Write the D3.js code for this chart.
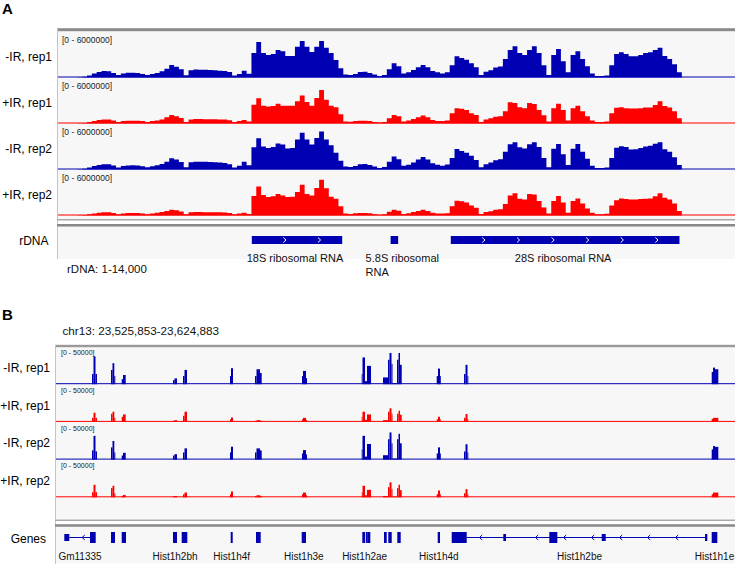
<!DOCTYPE html>
<html><head><meta charset="utf-8">
<script src="https://cdn.jsdelivr.net/npm/d3@7"></script>
<style>body{margin:0;background:#fff} svg{display:block}</style>
</head><body><svg id="c" width="735" height="567"></svg>
<script>
// ---------------- DATA: panel A (rDNA 1-14,000, 100 bp bins, values in millions of reads) ----------------
const rdnaLength = 14000;
const rdnaBinSize = 100;
const rangeMaxA = 6000000;
const trackNames = ["-IR, rep1", "+IR, rep1", "-IR, rep2", "+IR, rep2"];
const minusIR_rep1_A = [0,0,0,0,0.04,0.11,0.27,0.53,0.73,0.84,
 0.8,0.6,0.31,0.51,0.63,0.63,0.6,0.47,0.31,0.47,
 0.6,0.8,1.13,1.64,1.4,1.07,0.3,0.93,1.03,1.0,
 1.0,0.97,0.93,0.89,0.84,0.73,0.27,0.47,0.89,0.5,
 3.2,4.63,3.2,2.93,3.07,3.6,3.43,2.8,2.8,4.0,
 4.76,4.0,3.33,4.0,4.76,3.87,3.2,2.27,1.2,0.4,
 0.33,0.47,0.73,0.76,0.6,0.4,0.2,0.33,1.07,1.87,
 1.47,0.53,0.67,0.97,1.33,1.64,1.33,0.84,0.67,0.53,
 0.67,1.6,2.76,2.53,2.31,1.87,1.33,0.33,0.76,0.93,
 1.29,1.43,2.4,3.6,4.09,3.2,2.93,3.6,4.09,3.2,
 1.6,0.33,2.93,3.73,2.13,0.67,2.93,3.43,2.4,1.47,
 0.53,0.2,0.2,0.27,1.6,3.07,3.29,3.07,2.76,2.76,
 2.93,3.2,3.29,3.6,3.87,2.8,2.4,1.73,0.67,0,
 0,0,0,0,0,0,0,0,0,0];
const plusIR_rep1_A = [0,0,0,0,0.03,0.07,0.2,0.33,0.47,0.53,
 0.53,0.4,0.2,0.31,0.36,0.36,0.36,0.31,0.2,0.31,
 0.4,0.53,0.8,1.11,0.93,0.73,0.2,0.53,0.6,0.6,
 0.57,0.57,0.56,0.53,0.51,0.44,0.2,0.33,0.47,0.27,
 2.44,3.29,2.31,2.23,2.27,2.57,2.31,2.31,2.31,2.89,
 3.64,2.8,2.31,3.33,4.36,3.11,2.31,2.13,1.2,0.27,
 0.24,0.33,0.36,0.36,0.33,0.2,0.13,0.2,0.67,1.11,
 0.93,0.27,0.4,0.6,0.8,1.03,0.8,0.47,0.33,0.33,
 0.4,1.33,2.0,1.93,1.77,1.33,1.11,0.2,0.53,0.67,
 0.89,0.93,1.6,2.76,2.67,2.13,2.0,2.67,2.53,1.77,
 1.07,0.27,2.0,2.57,1.77,0.4,2.0,2.31,1.6,0.93,
 0.4,0.2,0.2,0.27,1.33,2.07,2.13,2.0,1.96,1.96,
 2.0,2.09,2.09,2.4,2.89,2.27,2.09,1.6,0.67,0,
 0,0,0,0,0,0,0,0,0,0];
const minusIR_rep2_A = [0,0,0,0,0.04,0.1,0.25,0.45,0.6,0.68,
 0.67,0.52,0.27,0.45,0.53,0.55,0.52,0.42,0.29,0.43,
 0.55,0.73,1.0,1.47,1.3,0.98,0.3,0.95,1.02,1.02,
 1.0,0.98,0.95,0.9,0.85,0.7,0.25,0.5,1.02,0.55,
 2.9,4.09,3.0,2.8,2.95,3.4,3.25,2.75,2.8,3.9,
 4.8,3.9,3.25,4.1,4.97,3.9,3.15,2.2,1.15,0.4,
 0.33,0.45,0.7,0.72,0.58,0.38,0.2,0.33,1.0,1.69,
 1.35,0.5,0.62,0.9,1.3,1.64,1.3,0.8,0.62,0.5,
 0.65,1.5,2.67,2.4,2.2,1.8,1.25,0.3,0.7,0.9,
 1.2,1.35,2.3,3.3,3.56,2.9,2.75,3.3,3.56,2.95,
 1.5,0.3,2.7,3.33,2.0,0.6,2.7,3.33,2.3,1.4,
 0.5,0.2,0.2,0.25,1.5,2.85,3.03,2.95,2.6,2.65,
 2.8,3.0,3.1,3.35,3.56,2.65,2.3,1.6,0.6,0,
 0,0,0,0,0,0,0,0,0,0];
const plusIR_rep2_A = [0,0,0,0,0.02,0.05,0.15,0.25,0.35,0.42,
 0.42,0.32,0.17,0.27,0.31,0.31,0.31,0.27,0.17,0.27,
 0.35,0.45,0.6,0.76,0.67,0.52,0.17,0.42,0.46,0.45,
 0.44,0.44,0.43,0.41,0.39,0.34,0.15,0.25,0.35,0.2,
 2.53,3.77,2.67,2.4,2.5,2.8,2.6,2.4,2.45,3.07,
 4.0,2.8,2.6,3.6,4.67,3.56,2.44,2.2,1.2,0.25,
 0.2,0.28,0.32,0.32,0.28,0.17,0.1,0.17,0.5,0.76,
 0.62,0.2,0.3,0.45,0.6,0.76,0.6,0.35,0.27,0.27,
 0.3,1.2,1.91,1.85,1.7,1.3,1.0,0.2,0.45,0.55,
 0.75,0.8,1.5,2.6,2.89,2.2,2.1,2.8,2.75,1.9,
 1.05,0.25,1.9,2.53,1.7,0.35,1.9,2.23,1.55,0.9,
 0.35,0.15,0.15,0.22,1.3,2.0,2.23,2.15,2.1,2.1,
 2.15,2.2,2.23,2.5,2.89,2.3,2.1,1.55,0.6,0,
 0,0,0,0,0,0,0,0,0,0];
const rdnaFeatLabel = [["18S ribosomal RNA"], ["5.8S ribosomal", "RNA"], ["28S ribosomal RNA"]];
const rdnaFeatStart = [4008, 6878, 8123];
const rdnaFeatEnd = [5877, 7034, 12852];

// ---------------- DATA: panel B (chr13 histone cluster) ----------------
const chromB = "chr13";
const startB = 23525853, endB = 23624883;
const rangeMaxB = 50000;
const segStartB = [23531104,23531322,23531614,23533875,23534093,23534356,23535435,23535625,23542917,23543136,
 23544376,23544595,23551231,23551377,23554877,23555095,23555606,23561732,23561878,23562315,
 23570439,23570556,23570921,23571212,23573546,23574275,23574494,23574786,23574932,23575588,
 23575807,23576025,23581378,23581567,23581859,23585360,23585579,23585870,23621486,23621676,23621968];
const segEndB = [23531322,23531614,23531833,23534093,23534356,23534502,23535625,23536019,23543136,23543501,
 23544595,23544959,23551377,23551668,23555095,23555606,23555853,23561878,23562315,23562461,
 23570556,23570921,23571212,23571796,23574275,23574494,23574786,23574932,23575588,23575807,
 23576025,23576273,23581567,23581859,23581961,23585579,23585870,23585943,23621676,23621968,23622449];
const minusIR_rep1_B = [13500,36900,13500,18900,27900,10800,6750,12200,5400,7700,10800,18900,10800,21200,10800,19800,14900,10800,17600,8100,13500,35500,4000,24300,9000,32400,41400,27000,1350,32400,41400,25700,10800,20700,10800,13500,25700,10800,16200,22000,19800];
const plusIR_rep1_B = [5400,12200,5400,10800,13500,5400,6750,9900,1600,2300,8100,13500,3400,5800,1350,2300,1600,3400,5400,2700,6750,13500,2700,9900,2300,13500,18000,10800,700,10800,14900,9500,3400,6750,3400,5400,10400,4000,4000,5400,5400];
const minusIR_rep2_B = [12200,31500,10800,16200,24700,9500,5400,9000,5400,7200,9500,14900,9500,17100,9500,14900,12200,8100,12600,6750,13500,31500,4000,20700,5800,27000,36000,21600,1350,27000,34200,21600,8100,16200,8100,10800,20300,9500,13500,18000,16900];
const plusIR_rep2_B = [6750,16600,6750,12200,15300,5400,2000,3100,1350,1750,4000,6300,4000,7700,1600,2700,2000,4000,6300,2700,6750,15300,2700,9900,1750,13500,19800,10800,700,12200,16600,9500,4000,9000,4000,5400,10800,4000,4000,6300,6300];
const exonStart = [23527064,23530812,23533875,23535435,23542917,23544186,23551333,23555023,23561688,23570527,23571067,23571256,23573692,23574319,23575632,23581524,23583566,23591092,23597801,23605443,23620510,23621486];
const exonEnd   = [23527793,23531643,23534458,23536063,23543501,23545003,23551625,23555708,23562315,23570950,23571212,23571694,23574086,23574815,23576127,23581859,23585754,23591486,23598968,23606027,23620845,23622303];
const exonThick = [0,1,1,1,1,1,1,1,1,1,1,1,1,1,1,1,1,0,1,0,0,1];
const intronStart = [23527793, 23585754];
const intronEnd = [23530812, 23620510];
const geneName = ["Gm11335","Hist1h2bh","Hist1h4f","Hist1h3e","Hist1h2ae","Hist1h4d","Hist1h2be","Hist1h1e"];
const geneStart = [23527064,23542917,23551333,23561688,23570527,23581524,23583566,23621486];
const geneEnd   = [23531643,23543501,23551625,23562315,23571212,23581859,23620845,23622303];

// ---------------- DRAWING ----------------
const FONT = "'Liberation Sans', Arial, Helvetica, sans-serif";
const BLUE = "rgb(0,0,178)", RED = "rgb(255,0,0)", BG = "#f7f7f7";
const colors = [BLUE, RED, BLUE, RED];
const svg = d3.select("#c").style("font-family", FONT);

function text(x, y, s, size, opts = {}) {
  return svg.append("text").attr("x", x).attr("y", y).text(s)
    .attr("font-size", size).attr("fill", opts.fill || "#000")
    .attr("text-anchor", opts.anchor || "start")
    .attr("font-weight", opts.weight || "normal");
}
function hline(x1, x2, y, color, w) {
  svg.append("line").attr("x1", x1).attr("x2", x2).attr("y1", y).attr("y2", y)
    .attr("stroke", color).attr("stroke-width", w);
}

// ===== Panel A =====
const AL = 58, AR = 735, A_TOP = 31.5, A_H = 46;
const xA = d3.scaleLinear().domain([0, rdnaLength]).range([AL, AR]);
svg.append("rect").attr("x", AL).attr("y", 29).attr("width", AR - AL).attr("height", 190).attr("fill", BG);
svg.append("rect").attr("x", AL).attr("y", 226).attr("width", AR - AL).attr("height", 33).attr("fill", BG);
svg.append("rect").attr("x", AL - 1).attr("y", 28.2).attr("width", AR - AL + 1).attr("height", 3).attr("fill", "#8a8a8a");
svg.append("line").attr("x1", AL - 0.5).attr("x2", AL - 0.5).attr("y1", 28).attr("y2", 259).attr("stroke", "#c4c4c4");
text(2, 14, "A", 15, {weight: "bold"});

const tracksA = [minusIR_rep1_A, plusIR_rep1_A, minusIR_rep2_A, plusIR_rep2_A];
tracksA.forEach((vals, t) => {
  const top = A_TOP + t * A_H, base = top + A_H;
  const y = d3.scaleLinear().domain([0, rangeMaxA / 1e6]).range([base, top]);
  const pts = vals.map((v, i) => [i * rdnaBinSize, v]);
  pts.push([rdnaLength, vals[vals.length - 1]]);
  const area = d3.area().x(d => xA(d[0])).y0(base).y1(d => y(d[1])).curve(d3.curveStepAfter);
  svg.append("path").attr("d", area(pts)).attr("fill", colors[t]);
  hline(AL, AR, base - 0.5, colors[t], 1);
  text(62, top + 11, "[0 - " + rangeMaxA + "]", 8.5, {fill: "#222"});
  text(52, top + 29.5, trackNames[t], 12, {anchor: "end"});
});
hline(AL - 1, AR, 219.8, "#a8a8a8", 1.5);
hline(AL - 1, AR, 225.3, "#888", 2.5);

// rDNA features
text(48.5, 245, "rDNA", 12, {anchor: "end"});
rdnaFeatStart.forEach((s, i) => {
  const x0 = xA(s), x1 = xA(rdnaFeatEnd[i]);
  svg.append("rect").attr("x", x0).attr("y", 236).attr("width", x1 - x0).attr("height", 8).attr("fill", BLUE);
  for (let cx = x0 + 33; cx < x1 - 10; cx += 34.6) {
    svg.append("polyline").attr("points", `${cx-1.5},${237.5} ${cx+1.2},${240} ${cx-1.5},${242.5}`)
      .attr("fill", "none").attr("stroke", "#fff").attr("stroke-width", 1);
  }
  const lines = rdnaFeatLabel[i];
  lines.forEach((ln, k) => {
    if (lines.length === 1) text((x0 + x1) / 2 - 2, 261.5, ln, 11, {anchor: "middle", fill: "#111"});
    else text(x0 - 25, 261.5 + k * 14, ln, 11, {fill: "#111"});
  });
});
text(67, 273, "rDNA: 1-" + d3.format(",")(rdnaLength), 11.5, {fill: "#111"});

// ===== Panel B =====
const BL = 56, BR = 735, B_TOP = 346.5, B_H = 37.7;
const xB = d3.scaleLinear().domain([startB, endB]).range([BL, BR]);
text(2, 320, "B", 15, {weight: "bold"});
text(62.5, 335, chromB + ": " + d3.format(",")(startB) + "-" + d3.format(",")(endB), 11.7, {fill: "#111"});
svg.append("rect").attr("x", BL).attr("y", 346).attr("width", BR - BL).attr("height", 173).attr("fill", BG);
svg.append("rect").attr("x", BL).attr("y", 526.5).attr("width", BR - BL).attr("height", 37).attr("fill", BG);
svg.append("rect").attr("x", BL - 1).attr("y", 344.8).attr("width", BR - BL + 1).attr("height", 2.4).attr("fill", "#999");
svg.append("line").attr("x1", BL - 0.5).attr("x2", BL - 0.5).attr("y1", 345).attr("y2", 564).attr("stroke", "#c4c4c4");

const tracksB = [minusIR_rep1_B, plusIR_rep1_B, minusIR_rep2_B, plusIR_rep2_B];
tracksB.forEach((vals, t) => {
  const top = B_TOP + t * B_H, base = top + B_H;
  const y = d3.scaleLinear().domain([0, rangeMaxB]).range([base, top]);
  svg.append("g").selectAll("rect").data(vals).join("rect")
    .attr("x", (d, i) => xB(segStartB[i]))
    .attr("width", (d, i) => Math.max(0.8, xB(segEndB[i]) - xB(segStartB[i])))
    .attr("y", d => y(d)).attr("height", d => base - y(d))
    .attr("fill", colors[t]);
  hline(BL, BR, base - 0.5, colors[t], 1);
  text(61, top + 8.8, "[0 - " + rangeMaxB + "]", 7, {fill: "#222"});
  text(50, top + 25.5, trackNames[t], 12, {anchor: "end"});
});
hline(BL - 1, BR, 520.3, "#a8a8a8", 1.5);
hline(BL - 1, BR, 525.5, "#888", 2.5);

// Genes track
const GY = 537.5;
text(46, 543, "Genes", 12, {anchor: "end"});
intronStart.forEach((s, i) => {
  const x0 = xB(s), x1 = xB(intronEnd[i]);
  hline(x0, x1, GY, BLUE, 1);
  for (let cx = x0 + 14; cx < x1 - 4; cx += 28) {
    const nearExon = exonStart.some((es, k) => cx > xB(es) - 4 && cx < xB(exonEnd[k]) + 4);
    if (nearExon) continue;
    svg.append("polyline").attr("points", `${cx+1.5},${GY-2.5} ${cx-1.2},${GY} ${cx+1.5},${GY+2.5}`)
      .attr("fill", "none").attr("stroke", BLUE).attr("stroke-width", 1);
  }
});
exonStart.forEach((s, i) => {
  const h = exonThick[i] ? 11 : 7;
  svg.append("rect").attr("x", xB(s)).attr("y", GY - h / 2)
    .attr("width", Math.max(1.5, xB(exonEnd[i]) - xB(s))).attr("height", h).attr("fill", BLUE);
});
geneName.forEach((n, i) => {
  text((xB(geneStart[i]) + xB(geneEnd[i])) / 2, 560, n, 10, {anchor: "middle", fill: "#111"});
});
</script></body></html>
